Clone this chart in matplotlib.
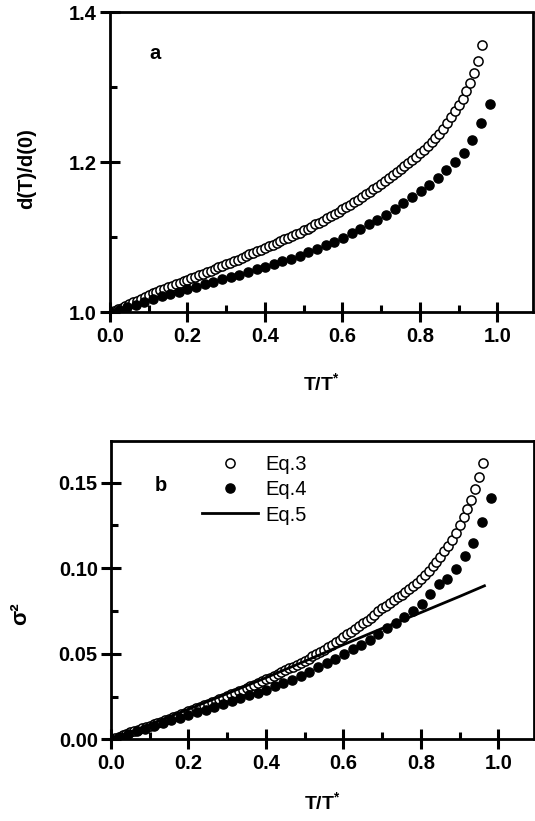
import matplotlib

matplotlib.use("Agg")
import matplotlib.pyplot as plt
from matplotlib.ticker import MultipleLocator, FormatStrFormatter


# open circles (Eq.3): x grid 0.00 .. 0.96
X_OPEN = [
    0.00, 0.01, 0.02, 0.03, 0.04, 0.05, 0.06, 0.07, 0.08, 0.09,
    0.10, 0.11, 0.12, 0.13, 0.14, 0.15, 0.16, 0.17, 0.18, 0.19,
    0.20, 0.21, 0.22, 0.23, 0.24, 0.25, 0.26, 0.27, 0.28, 0.29,
    0.30, 0.31, 0.32, 0.33, 0.34, 0.35, 0.36, 0.37, 0.38, 0.39,
    0.40, 0.41, 0.42, 0.43, 0.44, 0.45, 0.46, 0.47, 0.48, 0.49,
    0.50, 0.51, 0.52, 0.53, 0.54, 0.55, 0.56, 0.57, 0.58, 0.59,
    0.60, 0.61, 0.62, 0.63, 0.64, 0.65, 0.66, 0.67, 0.68, 0.69,
    0.70, 0.71, 0.72, 0.73, 0.74, 0.75, 0.76, 0.77, 0.78, 0.79,
    0.80, 0.81, 0.82, 0.83, 0.84, 0.85, 0.86, 0.87, 0.88, 0.89,
    0.90, 0.91, 0.92, 0.93, 0.94, 0.95, 0.96,
]

# filled circles (Eq.4)
X_FILLED = [
    0.000, 0.022, 0.045, 0.067, 0.089, 0.111, 0.134, 0.156, 0.178, 0.200,
    0.223, 0.245, 0.267, 0.290, 0.312, 0.334, 0.356, 0.379, 0.401, 0.423,
    0.445, 0.468, 0.490, 0.512, 0.535, 0.557, 0.579, 0.601, 0.624, 0.646,
    0.668, 0.690, 0.713, 0.735, 0.757, 0.779, 0.802, 0.824, 0.846, 0.868,
    0.891, 0.913, 0.935, 0.957, 0.980,
]

# panel a: d(T)/d(0)
D_OPEN = [
    1.000, 1.002, 1.004, 1.006, 1.008, 1.011, 1.013, 1.015, 1.018, 1.020,
    1.023, 1.025, 1.027, 1.029, 1.031, 1.033, 1.035, 1.037, 1.039, 1.041,
    1.043, 1.045, 1.047, 1.049, 1.051, 1.053, 1.055, 1.057, 1.060, 1.062,
    1.064, 1.066, 1.068, 1.070, 1.072, 1.075, 1.077, 1.079, 1.081, 1.083,
    1.086, 1.088, 1.090, 1.092, 1.095, 1.097, 1.099, 1.102, 1.104, 1.106,
    1.109, 1.111, 1.114, 1.117, 1.119, 1.122, 1.125, 1.128, 1.131, 1.134,
    1.137, 1.140, 1.143, 1.147, 1.150, 1.153, 1.157, 1.160, 1.164, 1.167,
    1.171, 1.175, 1.179, 1.183, 1.187, 1.191, 1.195, 1.199, 1.203, 1.207,
    1.212, 1.217, 1.222, 1.227, 1.232, 1.238, 1.245, 1.252, 1.260, 1.268,
    1.276, 1.285, 1.295, 1.306, 1.319, 1.335, 1.357,
]

D_FILLED = [
    1.000, 1.003, 1.007, 1.010, 1.014, 1.017, 1.021, 1.024, 1.027, 1.031,
    1.034, 1.037, 1.040, 1.044, 1.047, 1.050, 1.053, 1.057, 1.060, 1.064,
    1.068, 1.071, 1.075, 1.080, 1.084, 1.089, 1.094, 1.099, 1.105, 1.111,
    1.117, 1.123, 1.129, 1.137, 1.145, 1.153, 1.161, 1.170, 1.179, 1.189,
    1.200, 1.213, 1.230, 1.252, 1.278,
]

# panel b: sigma^2
S_OPEN = [
    0.0000, 0.0008, 0.0016, 0.0024, 0.0032, 0.0040, 0.0048, 0.0056, 0.0064, 0.0072,
    0.0080, 0.0088, 0.0096, 0.0104, 0.0113, 0.0121, 0.0129, 0.0138, 0.0146, 0.0155,
    0.0164, 0.0172, 0.0181, 0.0190, 0.0199, 0.0208, 0.0217, 0.0226, 0.0235, 0.0244,
    0.0253, 0.0262, 0.0272, 0.0281, 0.0291, 0.0300, 0.0310, 0.0320, 0.0330, 0.0340,
    0.0350, 0.0360, 0.0371, 0.0381, 0.0392, 0.0403, 0.0414, 0.0425, 0.0437, 0.0448,
    0.0460, 0.0472, 0.0484, 0.0497, 0.0510, 0.0523, 0.0537, 0.0551, 0.0566, 0.0581,
    0.0597, 0.0613, 0.0629, 0.0645, 0.0661, 0.0677, 0.0694, 0.0711, 0.0729, 0.0748,
    0.0765, 0.0781, 0.0797, 0.0813, 0.0829, 0.0845, 0.0859, 0.0876, 0.0895, 0.0915,
    0.0936, 0.0958, 0.0983, 0.1010, 0.1038, 0.1068, 0.1100, 0.1132, 0.1167, 0.1207,
    0.1252, 0.1298, 0.1345, 0.1397, 0.1460, 0.1535, 0.1615,
]

S_FILLED = [
    0.0000, 0.0015, 0.0031, 0.0047, 0.0062, 0.0078, 0.0094, 0.0110, 0.0125, 0.0141,
    0.0157, 0.0173, 0.0189, 0.0206, 0.0222, 0.0239, 0.0256, 0.0273, 0.0291, 0.0309,
    0.0327, 0.0346, 0.0369, 0.0395, 0.0421, 0.0446, 0.0471, 0.0499, 0.0525, 0.0553,
    0.0582, 0.0618, 0.0650, 0.0682, 0.0716, 0.0752, 0.0788, 0.0850, 0.0910, 0.0938,
    0.0996, 0.1071, 0.1148, 0.1268, 0.1410,
]

# Eq.5 line
X_LINE = [0.0, 0.1, 0.2, 0.3, 0.4, 0.5, 0.6, 0.7, 0.8, 0.9, 0.964]
S_LINE = [0.0, 0.0087, 0.0176, 0.0267, 0.0360, 0.0456, 0.0553, 0.0648, 0.0741, 0.0835, 0.0897]

LEGEND_LABELS = ["Eq.3", "Eq.4", "Eq.5"]

FONT = "Liberation Sans"
MS = 6.6


def style_axes(ax, y_major, y_minor, y_fmt):
    for spine in ax.spines.values():
        spine.set_linewidth(2.0)
    ax.xaxis.set_major_locator(MultipleLocator(0.2))
    ax.xaxis.set_minor_locator(MultipleLocator(0.1))
    ax.yaxis.set_major_locator(MultipleLocator(y_major))
    ax.yaxis.set_minor_locator(MultipleLocator(y_minor))
    ax.xaxis.set_major_formatter(FormatStrFormatter("%.1f"))
    ax.yaxis.set_major_formatter(FormatStrFormatter(y_fmt))
    ax.tick_params(which="major", direction="inout", length=15, width=2.2,
                   labelsize=14.5, top=False, right=False)
    ax.tick_params(which="minor", direction="in", length=5, width=2.2,
                   top=False, right=False)
    ax.tick_params(axis="x", which="major", pad=3)
    ax.tick_params(axis="y", which="major", pad=2)
    for label in ax.get_xticklabels() + ax.get_yticklabels():
        label.set_fontweight("bold")


def main():
    plt.rcParams["font.family"] = [FONT, "DejaVu Sans"]
    plt.rcParams["mathtext.fontset"] = "custom"
    plt.rcParams["mathtext.rm"] = "Liberation Sans:bold"
    plt.rcParams["mathtext.it"] = "Liberation Sans:bold"
    plt.rcParams["mathtext.bf"] = "Liberation Sans:bold"

    fig = plt.figure(figsize=(5.35, 8.21), dpi=100)
    W, H = 535.0, 821.0

    # panel a
    ax1 = fig.add_axes([110 / W, 1 - 312 / H, 423 / W, 299.5 / H])
    ax1.plot(X_OPEN, D_OPEN, "o", ms=MS, mfc="white", mec="black", mew=1.1)
    ax1.plot(X_FILLED, D_FILLED, "o", ms=MS, mfc="black", mec="black")
    ax1.set_xlim(0, 1.092)
    ax1.set_ylim(1.0, 1.4)
    style_axes(ax1, 0.2, 0.1, "%.1f")
    ax1.set_xlabel(r"T/T$^{*}$", fontsize=14, fontweight="bold")
    ax1.xaxis.set_label_coords(0.5, -0.2)
    ax1.set_ylabel("d(T)/d(0)", fontsize=14.5, fontweight="bold")
    ax1.yaxis.set_label_coords(-0.175, 0.48)
    ax1.text(0.106, 0.862, "a", transform=ax1.transAxes, fontsize=14.5,
             fontweight="bold", ha="center", va="center")

    # panel b
    ax2 = fig.add_axes([111 / W, 1 - 739.3 / H, 423 / W, 298.6 / H])
    h3, = ax2.plot(X_OPEN, S_OPEN, "o", ms=MS, mfc="white", mec="black", mew=1.1)
    h4, = ax2.plot(X_FILLED, S_FILLED, "o", ms=MS, mfc="black", mec="black")
    h5, = ax2.plot(X_LINE, S_LINE, "-", color="black", lw=2.0)
    ax2.set_xlim(0, 1.092)
    ax2.set_ylim(0, 0.1745)
    style_axes(ax2, 0.05, 0.025, "%.2f")
    ax2.set_xlabel(r"T/T$^{*}$", fontsize=14, fontweight="bold")
    ax2.xaxis.set_label_coords(0.5, -0.175)
    ax2.set_ylabel("σ²", fontsize=16, fontweight="bold")
    ax2.yaxis.set_label_coords(-0.19, 0.42)
    ax2.text(0.117, 0.851, "b", transform=ax2.transAxes, fontsize=14.5,
             fontweight="bold", ha="center", va="center")
    ax2.legend([h3, h4, h5], LEGEND_LABELS, loc="center",
               bbox_to_anchor=(0.338, 0.835), frameon=False, fontsize=14.5,
               handlelength=2.8, handletextpad=0.35, labelspacing=0.3,
               borderpad=0.2)

    fig.savefig("out.png", dpi=100)
    plt.close(fig)


if __name__ == "__main__":
    main()
